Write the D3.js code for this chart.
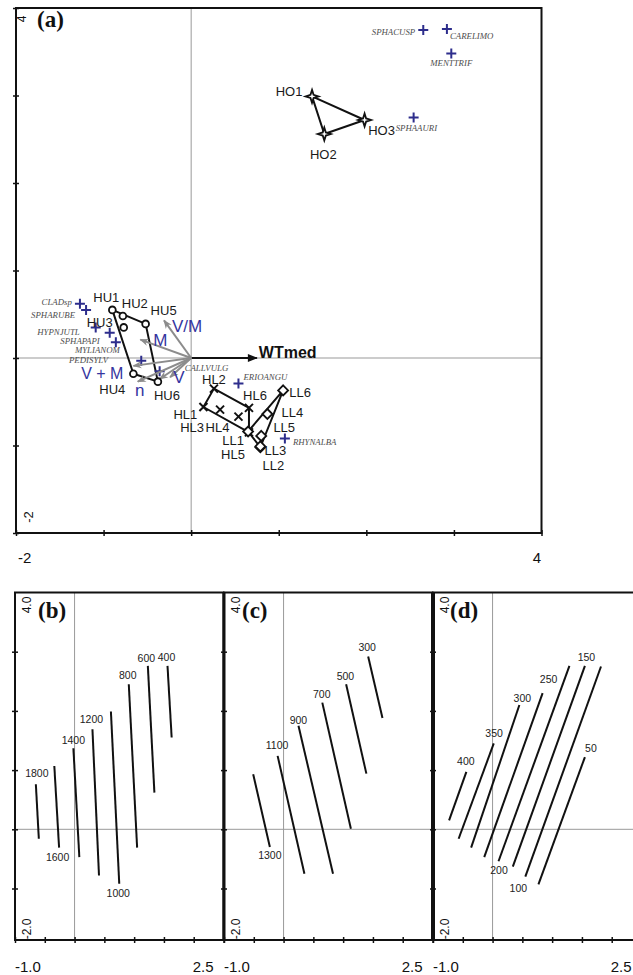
<!DOCTYPE html>
<html>
<head>
<meta charset="utf-8">
<script src="https://cdnjs.cloudflare.com/ajax/libs/d3/7.8.5/d3.min.js"></script>
<style>
  body { margin: 0; background: #fff; }
  svg { display: block; }
  text { font-family: "Liberation Sans", Arial, sans-serif; }
  .spp { font-family: "Liberation Serif", "Times New Roman", serif; font-style: italic; font-size: 8.8px; fill: #4d4d4d; }
  .site { font-size: 13px; fill: #1a1a1a; }
  .env { font-size: 17px; fill: #3535a0; }
  .plab { font-family: "Liberation Serif", "Times New Roman", serif; font-weight: bold; font-size: 23px; fill: #111; }
  .lev { font-size: 10.5px; fill: #222; }
</style>
</head>
<body>
<div id="content"></div>
<script>
// (a) site scores
var siteNames = ["HO1","HO2","HO3","HU1","HU2","HU3","HU4","HU5","HU6","HL1","HL2","HL3","HL4","HL5","HL6","LL1","LL2","LL3","LL4","LL5","LL6"];
var siteX = [1.38, 1.52, 1.98, -0.90, -0.78, -0.77, -0.66, -0.52, -0.38, 0.14, 0.26, 0.33, 0.54, 0.66, 0.66, 0.65, 0.79, 0.79, 0.87, 0.80, 1.05];
var siteY = [2.99, 2.56, 2.72, 0.55, 0.48, 0.35, -0.18, 0.39, -0.27, -0.56, -0.35, -0.59, -0.67, -0.85, -0.57, -0.84, -1.02, -1.01, -0.64, -0.89, -0.37];

// (a) species scores
var sppNames = ["SPHACUSP","CARELIMO","MENTTRIF","SPHAAURI","CLADsp","SPHARUBE","HYPNJUTL","SPHAPAPI","MYLIANOM","PEDISYLV","CALLVULG","ERIOANGU","RHYNALBA"];
var sppX = [2.65, 2.92, 2.97, 2.54, -1.27, -1.20, -1.09, -0.93, -0.86, -0.57, -0.36, 0.54, 1.07];
var sppY = [3.75, 3.76, 3.48, 2.75, 0.62, 0.55, 0.35, 0.29, 0.18, -0.03, -0.15, -0.29, -0.92];

// (a) environmental arrows
var envNames = ["WTmed","V/M","M","V + M","","n","V"];
var envX = [0.75, -0.31, -0.58, -0.66, -0.36, -0.61, -0.24];
var envY = [0, 0.43, 0.21, -0.09, -0.24, -0.27, -0.22];

// (b)-(d) isolines, each [xTop, yTop, xBottom, yBottom]
var levelsB = [1800, 1600, 1400, 1200, 1000, 800, 600, 400];
var linesB = [[-0.65,0.76,-0.60,-0.16],[-0.34,1.07,-0.26,-0.31],[-0.02,1.37,0.08,-0.47],[0.30,1.69,0.41,-0.78],
              [0.61,1.99,0.75,-0.92],[0.91,2.45,1.05,-0.31],[1.23,2.76,1.34,0.62],[1.56,2.76,1.63,1.55]];
var levelsC = [1300, 1100, 900, 700, 500, 300];
var linesC = [[-0.51,0.93,-0.23,-0.30],[-0.10,1.24,0.35,-0.75],[0.25,1.75,0.83,-0.75],[0.65,2.14,1.13,0.01],
              [1.05,2.45,1.39,0.94],[1.42,2.92,1.66,1.88]];
var levelsD = [400, 350, 300, 250, 200, 150, 100, 50];
var linesD = [[-0.44,0.97,-0.73,0.15],[0.02,1.45,-0.57,-0.16],[0.45,2.10,-0.36,-0.31],[0.84,2.30,-0.14,-0.47],
              [1.29,2.76,0.10,-0.54],[1.55,2.76,0.34,-0.63],[1.82,2.75,0.55,-0.80],[1.55,1.22,0.77,-0.93]];

// label placement (layout only)
var siteNudge = [[-23,-5],[-1,20],[17,10],[-6,-12],[12,-13],[-24,-5],[-21,16],[18,-13],[9,14],[-18,7],[0,-9],[-28,18],
                 [-21,11],[-16,22],[6,-12],[-15,9],[13,18],[15,4],[25,-2],[23,-8],[17,2]];
var sppNudge = [["end",-8,2],["start",3,7],["middle",0,9],["start",-18,11],["end",-8,-2],["end",-11,5],["end",-16,5],
                ["end",-10,8],["end",4,8],["end",-33,-1],["start",25,-3],["start",5,-6],["start",8,3]];
var envNudge = [["start",2,-6],["start",8,6],["start",13,1],["end",-10,8],["start",0,0],["middle",2,9],["start",3,0]];
var labB = [["t",1,-11],["b",-1.5,9],["t",0,-8],["t",-1,-10],["b",-1,9],["t",-1,-9],["t",-1.5,-8],["t",-1,-9]];
var labC = [["b",0,8],["t",-0.5,-11],["t",0,-6],["t",-0.5,-9],["t",-0.7,-8],["t",-1,-9]];
var labD = [["t",-0.5,-11],["t",0.3,-10],["t",3,-7],["t",6,-14],["b",0.5,9],["t",1.5,-9],["b",-7,11],["t",6,-9]];

var svg = d3.select("#content")
            .append("svg")
            .attr("width", 633)
            .attr("height", 975);

var defs = svg.append("defs");
defs.append("marker").attr("id", "headGray")
    .attr("viewBox", "0 -5 10 10").attr("refX", 9).attr("refY", 0)
    .attr("markerUnits", "userSpaceOnUse").attr("markerWidth", 11).attr("markerHeight", 9)
    .attr("orient", "auto")
  .append("path").attr("d", "M0,-4L10,0L0,4L3,0Z").attr("fill", "#8c8c8c");
defs.append("marker").attr("id", "headBlack")
    .attr("viewBox", "0 -5 10 10").attr("refX", 9).attr("refY", 0)
    .attr("markerUnits", "userSpaceOnUse").attr("markerWidth", 13).attr("markerHeight", 10)
    .attr("orient", "auto")
  .append("path").attr("d", "M0,-4L10,0L0,4Z").attr("fill", "#111");

function ticks(g, x, y, xt, yt, left, bottom) {
  g.append("g")
   .attr("transform", "translate(0," + (bottom - 3) + ")")
   .call(d3.axisBottom(x).tickValues(xt).tickSize(6).tickFormat(""))
   .call(function(a) { a.select(".domain").remove(); a.selectAll("line").attr("stroke", "#111").attr("stroke-width", 1.5); });
  g.append("g")
   .attr("transform", "translate(" + (left + 3) + ",0)")
   .call(d3.axisLeft(y).tickValues(yt).tickSize(6).tickFormat(""))
   .call(function(a) { a.select(".domain").remove(); a.selectAll("line").attr("stroke", "#111").attr("stroke-width", 1.5); });
}

function rotLabel(g, txt, x, y, size) {
  g.append("text").attr("transform", "translate(" + x + "," + y + ") rotate(-90)")
   .attr("text-anchor", "middle").attr("dominant-baseline", "central")
   .attr("font-size", size).attr("fill", "#111").text(txt);
}

function grid(g, x, y) {
  var xr = x.range(), yr = y.range();
  g.append("line").attr("x1", x(0)).attr("x2", x(0)).attr("y1", yr[0]).attr("y2", yr[1])
   .attr("stroke", "#999").attr("stroke-width", 1);
  g.append("line").attr("x1", xr[0]).attr("x2", xr[1]).attr("y1", y(0)).attr("y2", y(0))
   .attr("stroke", "#999").attr("stroke-width", 1);
}

function star4(r, ri) {
  var p = [];
  for (var i = 0; i < 8; i++) {
    var a = i * Math.PI / 4 - Math.PI / 2, rr = i % 2 ? ri : r;
    p.push([rr * Math.cos(a), rr * Math.sin(a)]);
  }
  return "M" + p.join("L") + "Z";
}

// ---------- panel (a)
var xA = d3.scaleLinear().domain([-2, 4]).range([16, 541.5]);
var yA = d3.scaleLinear().domain([-2, 4]).range([533, 8]);
var gA = svg.append("g");
grid(gA, xA, yA);

var sites = siteNames.map(function(n, i) {
  return {name: n, group: n.slice(0, 2), x: siteX[i], y: siteY[i], nudge: siteNudge[i]};
});

// convex hulls of site groups
d3.groups(sites, function(d) { return d.group; }).forEach(function(grp) {
  var hull = d3.polygonHull(grp[1].map(function(d) { return [xA(d.x), yA(d.y)]; }));
  gA.append("path").attr("d", "M" + hull.join("L") + "Z")
    .attr("fill", "none").attr("stroke", "#111").attr("stroke-width", 2).attr("stroke-linejoin", "round");
});

// species
var spp = sppNames.map(function(n, i) { return {name: n, x: sppX[i], y: sppY[i], nudge: sppNudge[i]}; });
gA.selectAll("path.plus").data(spp).enter().append("path")
  .attr("class", "plus")
  .attr("transform", function(d) { return "translate(" + xA(d.x) + "," + yA(d.y) + ")"; })
  .attr("d", "M-5,0H5M0,-5V5")
  .attr("stroke", "#2d2d8c").attr("stroke-width", 2);
gA.selectAll("text.spp").data(spp).enter().append("text")
  .attr("class", "spp")
  .attr("x", function(d) { return xA(d.x) + d.nudge[1]; })
  .attr("y", function(d) { return yA(d.y) + d.nudge[2]; })
  .attr("text-anchor", function(d) { return d.nudge[0]; })
  .attr("dominant-baseline", "central")
  .text(function(d) { return d.name; });

// environmental arrows
var env = envNames.map(function(n, i) { return {name: n, x: envX[i], y: envY[i], nudge: envNudge[i]}; });
gA.selectAll("line.env").data(env).enter().append("line")
  .attr("class", "env")
  .attr("x1", xA(0)).attr("y1", yA(0))
  .attr("x2", function(d) { return xA(d.x); })
  .attr("y2", function(d) { return yA(d.y); })
  .attr("stroke", function(d, i) { return i == 0 ? "#111" : "#8c8c8c"; })
  .attr("stroke-width", 2)
  .attr("marker-end", function(d, i) { return i == 0 ? "url(#headBlack)" : "url(#headGray)"; });
gA.selectAll("text.env").data(env).enter().append("text")
  .attr("class", "env")
  .attr("x", function(d) { return xA(d.x) + d.nudge[1]; })
  .attr("y", function(d) { return yA(d.y) + d.nudge[2]; })
  .attr("text-anchor", function(d) { return d.nudge[0]; })
  .attr("dominant-baseline", "central")
  .style("fill", function(d, i) { return i == 0 ? "#111" : null; })
  .style("font-weight", function(d, i) { return i == 0 ? "bold" : null; })
  .style("font-size", function(d, i) { return i == 0 ? "16px" : (d.name == "V + M" ? "16px" : null); })
  .text(function(d) { return d.name; });

// site markers
var mk = gA.selectAll("g.site").data(sites).enter().append("g")
  .attr("transform", function(d) { return "translate(" + xA(d.x) + "," + yA(d.y) + ")"; });
mk.filter(function(d) { return d.group == "HO"; }).append("path")
  .attr("d", star4(6.5, 2.2)).attr("fill", "#fff").attr("stroke", "#111").attr("stroke-width", 1.8);
mk.filter(function(d) { return d.group == "HU"; }).append("circle")
  .attr("r", 3.4).attr("fill", "#fff").attr("stroke", "#111").attr("stroke-width", 1.8);
mk.filter(function(d) { return d.group == "HL"; }).append("path")
  .attr("d", "M-4,-4L4,4M-4,4L4,-4").attr("stroke", "#111").attr("stroke-width", 2);
mk.filter(function(d) { return d.group == "LL"; }).append("path")
  .attr("d", "M0,-5L5,0L0,5L-5,0Z").attr("fill", "#fff").attr("stroke", "#111").attr("stroke-width", 1.8);

gA.selectAll("text.site").data(sites).enter().append("text")
  .attr("class", "site")
  .attr("x", function(d) { return xA(d.x) + d.nudge[0]; })
  .attr("y", function(d) { return yA(d.y) + d.nudge[1]; })
  .attr("text-anchor", "middle")
  .attr("dominant-baseline", "central")
  .text(function(d) { return d.name; });

ticks(gA, xA, yA, d3.range(-2, 5), d3.range(-2, 5), 16, 533);
gA.append("rect").attr("x", 16).attr("y", 8).attr("width", 525.5).attr("height", 525)
  .attr("fill", "none").attr("stroke", "#111").attr("stroke-width", 2);
gA.append("text").attr("class", "plab").attr("x", 37).attr("y", 19)
  .attr("dominant-baseline", "central").text("(a)");
rotLabel(gA, "4", 22, 19, 12);
rotLabel(gA, "-2", 28, 517, 13);
gA.append("text").attr("x", 18).attr("y", 557).attr("dominant-baseline", "central")
  .attr("font-size", 15).attr("fill", "#111").text("-2");
gA.append("text").attr("x", 541).attr("y", 557).attr("text-anchor", "end").attr("dominant-baseline", "central")
  .attr("font-size", 15).attr("fill", "#111").text("4");

// ---------- panels (b)-(d)
function drawPanel(left, right, tag, tagDx, levels, lines, labs, edgeWidth) {
  var x = d3.scaleLinear().domain([-1, 2.5]).range([left, right]);
  var y = d3.scaleLinear().domain([-1.87, 4]).range([940, 592.5]);
  var g = svg.append("g");
  grid(g, x, y);
  var iso = levels.map(function(v, i) { return {level: v, c: lines[i], lab: labs[i]}; });
  g.selectAll("line.iso").data(iso).enter().append("line")
   .attr("x1", function(d) { return x(d.c[0]); })
   .attr("y1", function(d) { return y(d.c[1]); })
   .attr("x2", function(d) { return x(d.c[2]); })
   .attr("y2", function(d) { return y(d.c[3]); })
   .attr("stroke", "#111").attr("stroke-width", 2);
  g.selectAll("text.lev").data(iso).enter().append("text")
   .attr("class", "lev")
   .attr("x", function(d) { return (d.lab[0] == "t" ? x(d.c[0]) : x(d.c[2])) + d.lab[1]; })
   .attr("y", function(d) { return (d.lab[0] == "t" ? y(d.c[1]) : y(d.c[3])) + d.lab[2]; })
   .attr("text-anchor", "middle").attr("dominant-baseline", "central")
   .text(function(d) { return d.level; });
  ticks(g, x, y, d3.range(-1, 2.51, 0.5), d3.range(-1, 4), left, 940);
  g.append("rect").attr("x", left).attr("y", 592.5).attr("width", right - left).attr("height", 347.5)
   .attr("fill", "none").attr("stroke", "#111").attr("stroke-width", 2);
  g.append("line").attr("x1", left).attr("x2", left).attr("y1", 592.5).attr("y2", 940)
   .attr("stroke", "#111").attr("stroke-width", edgeWidth);
  g.append("text").attr("class", "plab").attr("x", left + tagDx).attr("y", 610)
   .attr("dominant-baseline", "central").text(tag);
  rotLabel(g, "4.0", left + 11.5, 605, 12);
  rotLabel(g, "-2.0", left + 12, 929, 12);
  g.append("text").attr("x", left).attr("y", 966).attr("dominant-baseline", "central")
   .attr("font-size", 15).attr("fill", "#111").text("-1.0");
  g.append("text").attr("x", right - 10).attr("y", 966).attr("text-anchor", "end").attr("dominant-baseline", "central")
   .attr("font-size", 15).attr("fill", "#111").text("2.5");
}

drawPanel(15, 223.5, "(b)", 23, levelsB, linesB, labB, 2);
drawPanel(224, 432.5, "(c)", 18, levelsC, linesC, labC, 3);
drawPanel(433, 641.5, "(d)", 17, levelsD, linesD, labD, 4);
</script>
</body>
</html>
